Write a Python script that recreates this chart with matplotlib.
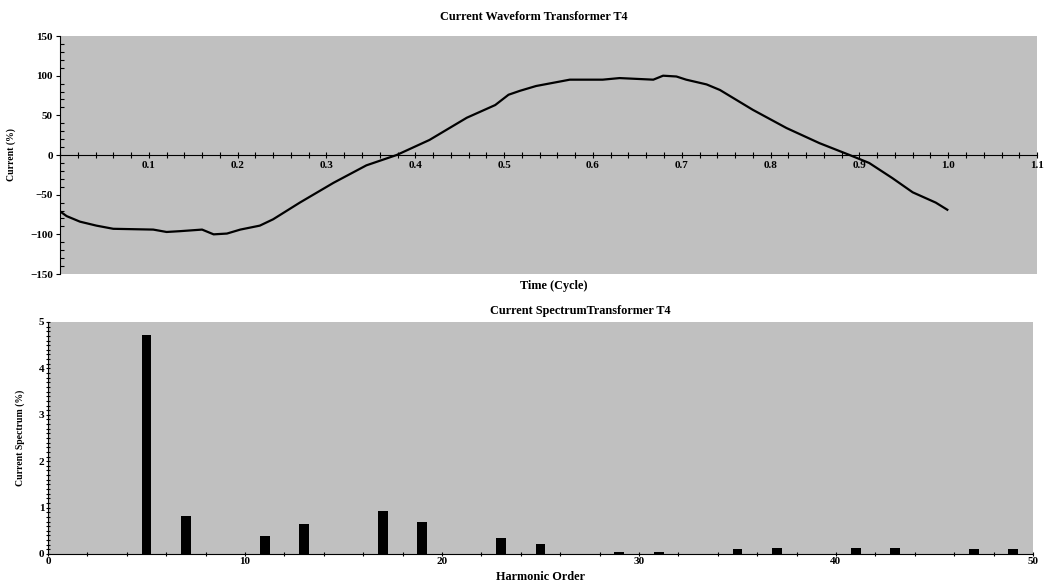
import matplotlib; matplotlib.use('Agg')
import matplotlib.pyplot as plt
from matplotlib.ticker import MultipleLocator

# waveform (time in cycles, current in %)
t_cycle = [0.0, 0.0075, 0.0225, 0.041, 0.06, 0.105, 0.12, 0.135, 0.16, 0.173, 0.188,
           0.203, 0.225, 0.24, 0.27, 0.308, 0.345, 0.379, 0.416, 0.458, 0.49, 0.505,
           0.518, 0.536, 0.555, 0.574, 0.611, 0.63, 0.649, 0.668, 0.679, 0.694, 0.705,
           0.728, 0.743, 0.78, 0.818, 0.855, 0.889, 0.911, 0.937, 0.96, 0.986, 0.999]
current = [-71, -77, -84, -89, -93, -94, -97, -96, -94, -100, -99,
           -94, -89, -81, -60, -35, -13, 0, 19, 47, 63, 76,
           81, 87, 91, 95, 95, 97, 96, 95, 100, 99, 95,
           89, 82, 57, 34, 15, 0, -10, -29, -47, -60, -69]

# harmonic spectrum
harm_order = [5, 7, 11, 13, 17, 19, 23, 25, 29, 31, 35, 37, 41, 43, 47, 49]
harm_pct = [4.72, 0.82, 0.38, 0.65, 0.93, 0.68, 0.35, 0.22, 0.04, 0.04,
            0.10, 0.13, 0.13, 0.13, 0.10, 0.10]

FONT = dict(family='Liberation Serif', fontweight='bold')
BG = '#c0c0c0'

fig = plt.figure(figsize=(10.54, 5.85), dpi=100)

# --- top: waveform
ax1 = fig.add_axes([0.0569, 0.5316, 0.927, 0.4068])
ax1.set_facecolor(BG)
ax1.plot(t_cycle, current, color='black', lw=1.6)
ax1.set_xlim(0, 1.1); ax1.set_ylim(-150, 150)
for s in ['top', 'right']: ax1.spines[s].set_visible(False)
ax1.spines['bottom'].set_position(('data', 0))
ax1.set_xticks([0.1, 0.2, 0.3, 0.4, 0.5, 0.6, 0.7, 0.8, 0.9, 1.0, 1.1])
ax1.set_xticklabels(['0.1', '0.2', '0.3', '0.4', '0.5', '0.6', '0.7', '0.8', '0.9', '1.0', '1.1'])
ax1.xaxis.set_minor_locator(MultipleLocator(0.02))
ax1.yaxis.set_major_locator(MultipleLocator(50))
ax1.yaxis.set_minor_locator(MultipleLocator(10))
ax1.tick_params(axis='x', which='both', direction='inout', length=4, width=0.8, labelsize=8, pad=2)
ax1.tick_params(axis='y', which='both', direction='in', length=3, width=0.8, labelsize=8, pad=2)
ax1.tick_params(axis='y', which='major', direction='out', length=3)
for lb in ax1.get_xticklabels() + ax1.get_yticklabels():
    lb.set_fontfamily('Liberation Serif'); lb.set_fontweight('bold')
fig.text(534 / 1054, 1 - 17 / 585, 'Current Waveform Transformer T4',
         ha='center', va='center', fontsize=8.8, **FONT)
ax1.set_ylabel('Current (%)', fontsize=7, labelpad=10, **FONT)
fig.text(0.525, 1 - 286 / 585, 'Time (Cycle)', ha='center', va='center', fontsize=8.8, **FONT)

# --- bottom: spectrum
ax2 = fig.add_axes([0.0455, 0.053, 0.9345, 0.3966])
ax2.set_facecolor(BG)
ax2.bar(harm_order, harm_pct, width=0.5, color='black')
ax2.set_xlim(0, 50); ax2.set_ylim(0, 5)
for s in ['top', 'right']: ax2.spines[s].set_visible(False)
ax2.xaxis.set_major_locator(MultipleLocator(10))
ax2.xaxis.set_minor_locator(MultipleLocator(2))
ax2.yaxis.set_major_locator(MultipleLocator(1))
ax2.yaxis.set_minor_locator(MultipleLocator(0.1))
ax2.tick_params(which='both', direction='inout', length=3, width=0.8, labelsize=8, pad=1)
for lb in ax2.get_xticklabels() + ax2.get_yticklabels():
    lb.set_fontfamily('Liberation Serif'); lb.set_fontweight('bold')
fig.text(580 / 1054, 1 - 311 / 585, 'Current SpectrumTransformer T4',
         ha='center', va='center', fontsize=8.8, **FONT)
ax2.set_ylabel('Current Spectrum (%)', fontsize=7, labelpad=10, **FONT)
ax2.set_xlabel('Harmonic Order', fontsize=8.8, labelpad=3, **FONT)

fig.savefig('out.png', dpi=100)
